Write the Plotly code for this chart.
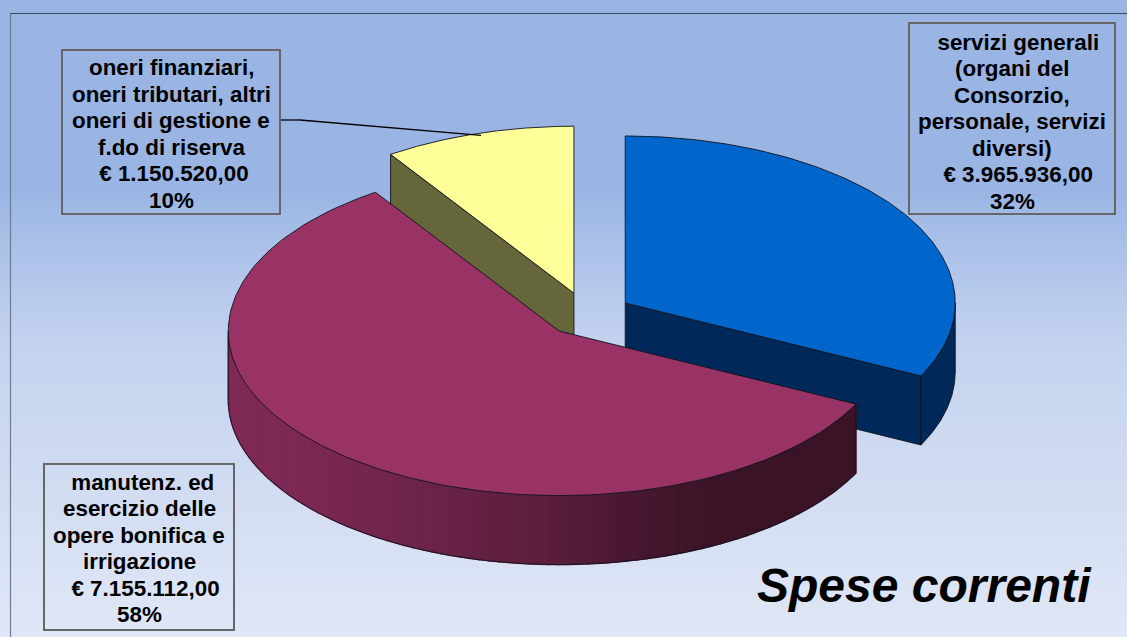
import numpy as np
import plotly.graph_objects as go

# ---- data -------------------------------------------------------------
categories = ["servizi generali", "manutenz. ed esercizio", "oneri finanziari"]
values = [3965936.00, 7155112.00, 1150520.00]
label_blue = ["\u00a0\u00a0servizi generali", "(organi del", "Consorzio,", "personale, servizi",
              "diversi)", "\u00a0\u00a0€ 3.965.936,00", "32%"]
label_maroon = ["\u00a0manutenz. ed", "esercizio delle", "opere bonifica e", "irrigazione",
                "\u00a0\u00a0€ 7.155.112,00", "58%"]
label_yellow = ["oneri finanziari,", "oneri tributari, altri", "oneri di gestione e",
                "f.do di riserva", "\u00a0€ 1.150.520,00", "10%"]
title_text = "Spese correnti"

# ---- style / layout constants ------------------------------------------
W, H = 1127, 637
CX, CY = 587.0, 315.0
RX = 330.0
RY_BACK, RY_FRONT = 167.0, 164.5
DEPTH = 69.0
EXPLODE = 45.0
TWEAK = [(0, 0, 0), (2, -1, 1), (0, 0, 0)]
TOP = ["#0066CC", "#993366", "#FFFF99"]
FACE = ["#00295A", "#4A1A32", "#66663B"]
EDGE = "#10131c"
MAROON_STOPS = [(228, (128, 42, 86)), (300, (125, 41, 83)), (386, (114, 38, 76)),
                (469, (102, 34, 68)), (552, (90, 30, 60)), (635, (72, 24, 48)),
                (718, (59, 20, 38)), (857, (58, 20, 38))]
LINE_STEP = 26.5

fig = go.Figure()

# background gradient
bg_y = np.array([13, 190, 210, 310, 367, 477, 560, 637])
bg_z = np.array([0, 0, 0.086, 0.486, 0.63, 0.77, 0.9, 1])
fig.add_trace(go.Heatmap(x=[10, W + 5], y=bg_y, z=np.c_[bg_z, bg_z],
                         colorscale=[[0, "#9AB5E4"], [1, "#E0E7F6"]], zmin=0, zmax=1, zsmooth="best",
                         showscale=False, hoverinfo="skip"))


def add_poly(xs, ys, fill, line=None, width=1.0):
    fig.add_trace(go.Scatter(x=xs, y=ys, mode="lines", fill="toself", fillcolor=fill,
                             line=dict(color=line or fill, width=width),
                             hoverinfo="skip", showlegend=False))


def rim(w, a):
    _, _, cx, cy, rx = w
    c = np.cos(a)
    return cx + rx * np.sin(a), cy - np.where(c > 0, RY_BACK, RY_FRONT) * c


total = sum(values)
angles = np.concatenate([[0], np.cumsum(values) / total * 2 * np.pi])
wedges = []
for i in range(3):
    a0, a1 = angles[i], angles[i + 1]
    mid = (a0 + a1) / 2
    dx, dy, dr = TWEAK[i]
    ccx = CX + EXPLODE * np.sin(mid) + dx
    ccy = CY - EXPLODE * RY_BACK / RX * np.cos(mid) + dy
    wedges.append((a0, a1, ccx, ccy, RX + dr))


def draw_top(i):
    w = wedges[i]
    t = np.linspace(w[0], w[1], 160)
    x, y = rim(w, t)
    add_poly(np.r_[w[2], x, w[2]], np.r_[w[3], y, w[3]], TOP[i], EDGE, 0.9)


def draw_cut_face(i, a):
    w = wedges[i]
    cx, cy = w[2], w[3]
    x, y = rim(w, a)
    add_poly([cx, x, x, cx, cx], [cy, y, y + DEPTH, cy + DEPTH, cy], FACE[i], EDGE, 0.9)


def draw_flat_rim(i):
    w = wedges[i]
    t = np.linspace(max(w[0], np.pi / 2), min(w[1], 3 * np.pi / 2), 60)
    x, y = rim(w, t)
    add_poly(np.r_[x, x[::-1], x[0]], np.r_[y, y[::-1] + DEPTH, y[0]], FACE[i], EDGE, 0.9)


def draw_gradient_rim(i):
    w = wedges[i]
    t = np.linspace(max(w[0], np.pi / 2), min(w[1], 3 * np.pi / 2), 90)
    x, y = rim(w, t)
    sx = [s[0] for s in MAROON_STOPS]
    for k in range(len(t) - 1):
        xm = (x[k] + x[k + 1]) / 2
        c = [int(np.interp(xm, sx, [s[1][j] for s in MAROON_STOPS])) for j in range(3)]
        col = f"rgb({c[0]},{c[1]},{c[2]})"
        add_poly([x[k], x[k + 1], x[k + 1], x[k], x[k]],
                 [y[k], y[k + 1], y[k + 1] + DEPTH, y[k] + DEPTH, y[k]], col, col, 1.3)
    fig.add_trace(go.Scatter(x=np.r_[x[0], x, x[-1]], y=np.r_[y[0], y + DEPTH, y[-1]],
                             mode="lines", line=dict(color=EDGE, width=0.9),
                             hoverinfo="skip", showlegend=False))


# yellow
draw_cut_face(2, wedges[2][0])
draw_top(2)
# blue
draw_cut_face(0, wedges[0][1])
draw_flat_rim(0)
draw_top(0)
# maroon
draw_gradient_rim(1)
draw_top(1)

# leader line
fig.add_shape(type="line", x0=280, y0=120, x1=300, y1=120, line=dict(color="#000000", width=1.3))
fig.add_shape(type="line", x0=300, y0=120, x1=481, y1=135.4, line=dict(color="#000000", width=1.3))

# frame of the chart area
fig.add_shape(type="line", x0=10, y0=13.5, x1=W, y1=13.5, line=dict(color="#3F4656", width=1.2))
fig.add_shape(type="line", x0=10.5, y0=13.5, x1=10.5, y1=H, line=dict(color="#6F7B90", width=1.2))

# label boxes
boxes = [(909, 23, 1115, 214, label_blue, 121.5), (44, 464, 234, 630, label_maroon, 548.5),
         (62, 50, 280, 214, label_yellow, 134)]
for x0, y0, x1, y1, lines, ymid in boxes:
    fig.add_shape(type="rect", x0=x0, y0=y0, x1=x1, y1=y1, line=dict(color="#666666", width=2))
    for n, s in enumerate(lines):
        fig.add_annotation(x=(x0 + x1) / 2, y=ymid + (n - (len(lines) - 1) / 2) * LINE_STEP,
                           text=f"<b>{s}</b>", showarrow=False, xanchor="center", yanchor="middle",
                           font=dict(family="Liberation Sans", size=22.4, color="#000000"))

fig.add_annotation(x=924.5, y=585, text=f"<b><i>{title_text}</i></b>", showarrow=False,
                   xanchor="center", yanchor="middle",
                   font=dict(family="Liberation Sans", size=48, color="#000000"))

fig.update_layout(width=W, height=H, margin=dict(l=0, r=0, t=0, b=0),
                  paper_bgcolor="#FFFFFF", plot_bgcolor="#FFFFFF", showlegend=False,
                  xaxis=dict(range=[0, W], visible=False, fixedrange=True),
                  yaxis=dict(range=[H, 0], visible=False, fixedrange=True))

fig.write_html("out.html", config={"displayModeBar": False},
               post_script="document.body.style.margin='0';document.body.style.overflow='hidden';")
